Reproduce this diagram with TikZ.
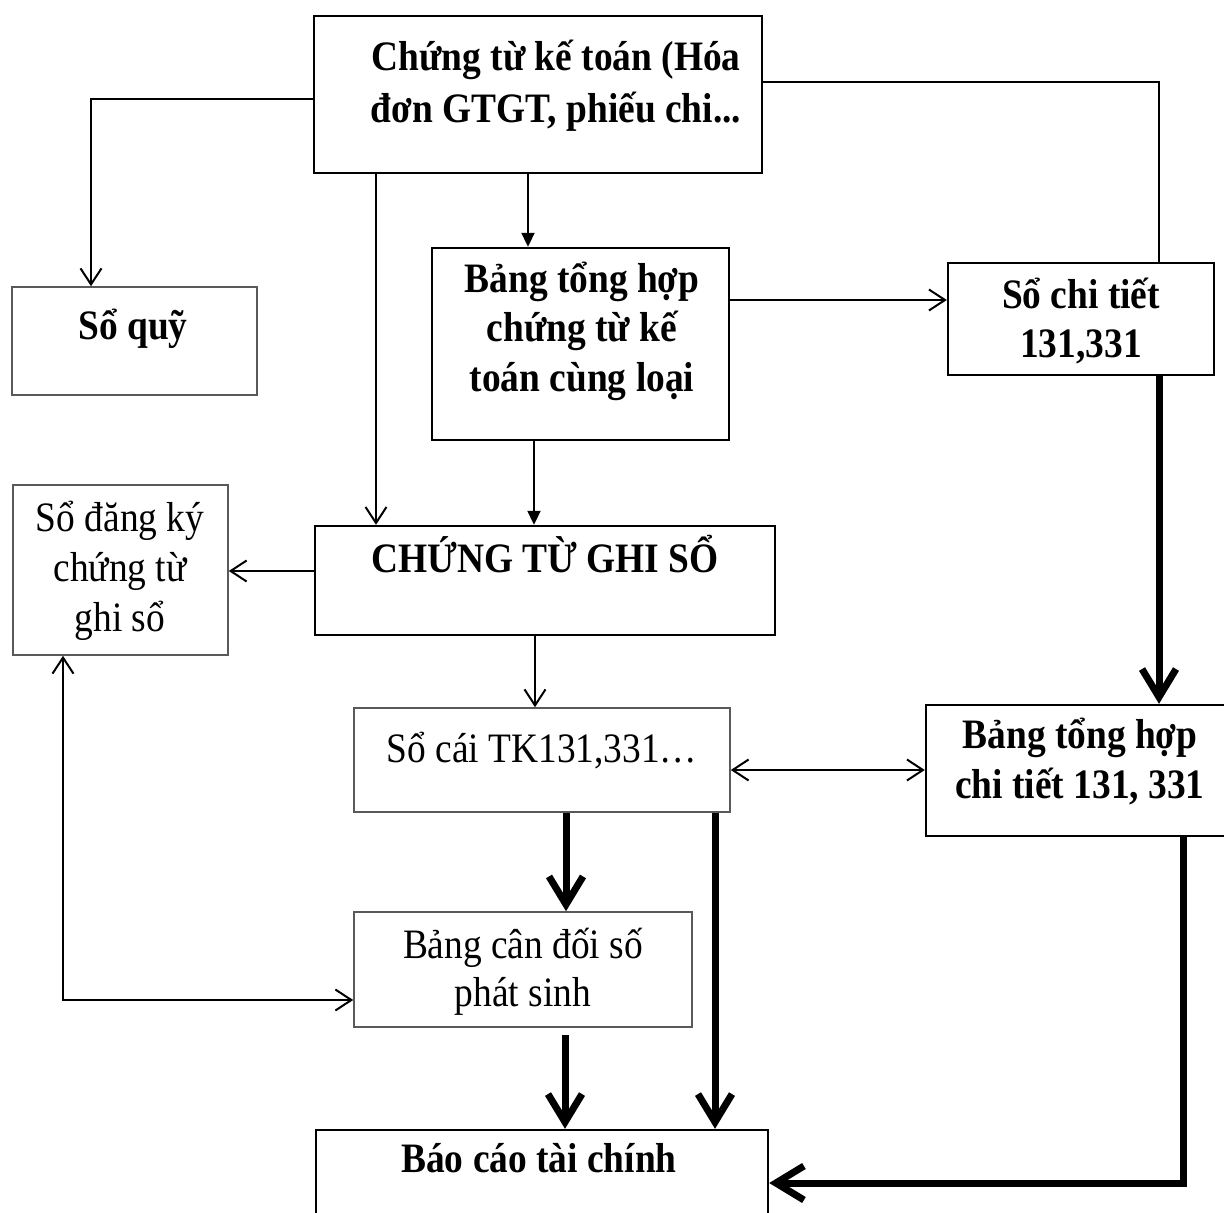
\documentclass[tikz,border=0pt]{standalone}
\usepackage{fontspec}
\setmainfont{Liberation Serif}
\usepackage{graphicx}
\usetikzlibrary{arrows.meta}
\newcommand\vnstack[2]{\scalebox{1}[1.12]{\vtop{\baselineskip=#1\lineskiplimit=-1000pt\lineskip=0pt\halign{\hfil##\hfil\cr#2\crcr}}}}
\tikzset{
  boxk/.style={draw=black, line width=2.4pt, inner sep=0pt},
  boxg/.style={draw=black!65, line width=1.6pt, inner sep=0pt},
  txt/.style={inner sep=0pt, anchor=base, font=\fontsize{37.4}{44.6}\selectfont},
  ln/.style={line width=2pt},
  oarr/.style={ln, -{Straight Barb[length=16pt,width=21pt]}},
  oboth/.style={ln, {Straight Barb[length=16pt,width=21pt]}-{Straight Barb[length=16pt,width=21pt]}},
  farr/.style={ln, -{Triangle[length=14pt,width=13pt]}},
  tarr/.style={line width=7pt, -{Straight Barb[length=28pt,width=34pt]}},
}
\begin{document}
\begin{tikzpicture}[x=1pt,y=-1pt]
\useasboundingbox (0,0) rectangle (1224,1213);
% boxes
\node[boxk, minimum width=448pt, minimum height=157pt] (A) at (538,94.5) {};
\node[boxg, minimum width=245pt, minimum height=108pt] (B) at (134.5,341) {};
\node[boxk, minimum width=297pt, minimum height=192pt] (C) at (580.5,344) {};
\node[boxk, minimum width=266pt, minimum height=112pt] (E) at (1081,319) {};
\node[boxg, minimum width=215pt, minimum height=170pt] (G) at (120.5,570) {};
\node[boxk, minimum width=460pt, minimum height=109pt] (D) at (545,580.5) {};
\node[boxg, minimum width=376pt, minimum height=104pt] (I) at (542,760) {};
\node[boxk, minimum width=302pt, minimum height=131pt] (F) at (1077,770.5) {};
\node[boxg, minimum width=338pt, minimum height=115pt] (J) at (523,969.5) {};
\node[boxk, minimum width=452pt, minimum height=88pt] (H) at (542,1174) {};
% texts
\node[txt] (tA) at (556,70) {\bfseries\vnstack{46.43pt}{Chứng từ kế toán (Hóa\cr đơn GTGT, phiếu chi...}};
\node[txt] (tB) at (133,339) {\bfseries\vnstack{44.64pt}{Sổ quỹ}};
\node[txt] (tC) at (582,292) {\bfseries\vnstack{44.2pt}{Bảng tổng hợp\cr chứng từ kế\cr toán cùng loại}};
\node[txt] (tE) at (1081,308) {\bfseries\vnstack{44.2pt}{Sổ chi tiết\cr 131,331}};
\node[txt] (tG) at (120,531) {\vnstack{44.64pt}{Sổ đăng ký\cr chứng từ\cr ghi sổ}};
\node[txt] (tD) at (545,572) {\bfseries\vnstack{44.64pt}{CHỨNG TỪ GHI SỔ}};
\node[txt] (tI) at (542,762) {\vnstack{44.64pt}{Sổ cái TK131,331…}};
\node[txt] (tF) at (1080,748) {\bfseries\vnstack{44.64pt}{Bảng tổng hợp\cr chi tiết 131, 331}};
\node[txt] (tJ) at (523,958) {\vnstack{42.86pt}{Bảng cân đối số\cr phát sinh}};
\node[txt] (tH) at (539,1172) {\bfseries\vnstack{44.64pt}{Báo cáo tài chính}};
% thin connectors
\draw[oarr] (A.west |- 0,99) -| (91,0 |- B.north);
\draw[oarr] (376,0 |- A.south) -- (376,0 |- D.north);
\draw[farr] (528,0 |- A.south) -- (528,0 |- C.north);
\draw[ln] (A.east |- 0,82) -| (1159,0 |- E.north);
\draw[oarr] (C.east |- 0,300) -- (E.west |- 0,300);
\draw[farr] (534,0 |- C.south) -- (534,0 |- D.north);
\draw[oarr] (D.west |- 0,571) -- (G.east |- 0,571);
\draw[oarr] (535,0 |- D.south) -- (535,0 |- I.north);
\draw[oboth] (I.east |- 0,770) -- (F.west |- 0,770);
\draw[oboth] (63,0 |- G.south) |- (J.west |- 0,1000);
% thick connectors
\draw[tarr] (1159,0 |- E.south) -- (1159,0 |- F.north);
\draw[tarr] (566,0 |- I.south) -- (566,0 |- J.north);
\draw[tarr] (715,0 |- I.south) -- (715,0 |- H.north);
\draw[tarr, shorten <=7pt] (565,0 |- J.south) -- (565,0 |- H.north);
\draw[tarr] (1183,0 |- F.south) |- (H.east |- 0,1183);
\end{tikzpicture}
\end{document}
